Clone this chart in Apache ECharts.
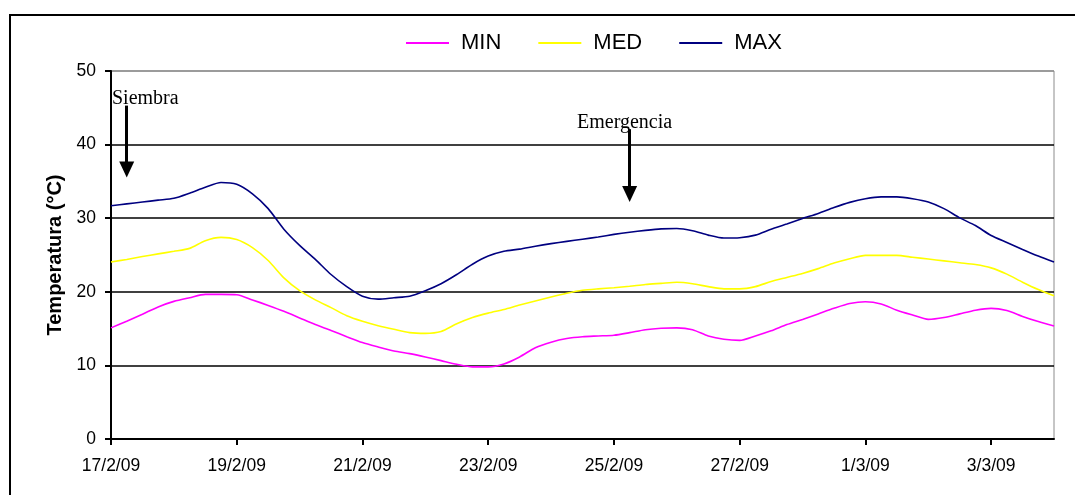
<!DOCTYPE html>
<html>
<head>
<meta charset="utf-8">
<script src="https://cdn.jsdelivr.net/npm/echarts@6/dist/echarts.min.js"></script>
<style>
  html, body { margin: 0; padding: 0; background: #fff; }
  #grafico { width: 1075px; height: 495px; }
</style>
</head>
<body>
<div id="grafico"></div>
<script>
// fechas del periodo (una por dia), 17/2/09 .. 4/3/09
const fechas = ['17/2/09', '18/2/09', '19/2/09', '20/2/09', '21/2/09', '22/2/09', '23/2/09', '24/2/09',
                '25/2/09', '26/2/09', '27/2/09', '28/2/09', '1/3/09', '2/3/09', '3/3/09', '4/3/09'];
// lecturas cada 6 horas
const horas = ['00h', '06h', '12h', '18h'];

// temperaturas (°C), una cada 6 h
const tMin = [15.1, 16.0, 16.95, 17.95, 18.7, 19.2, 19.65, 19.65, 19.6, 18.9, 18.15, 17.35,
              16.45, 15.55, 14.75, 13.9, 13.1, 12.5, 11.95, 11.6, 11.15, 10.65, 10.15, 9.8,
              9.8, 10.2, 11.15, 12.4, 13.15, 13.65, 13.9, 14.0, 14.1, 14.45, 14.85, 15.05,
              15.1, 14.85, 14.0, 13.55, 13.4, 14.0, 14.7, 15.55, 16.25, 17.0, 17.75, 18.4,
              18.65, 18.35, 17.5, 16.85, 16.25, 16.5, 17.0, 17.5, 17.75, 17.45, 16.65, 15.95, 15.35];
const tMed = [24.05, 24.4, 24.8, 25.15, 25.5, 25.9, 26.95, 27.4, 27.1, 26.0, 24.25, 21.9,
              20.15, 18.9, 17.85, 16.75, 16.0, 15.4, 14.9, 14.45, 14.35, 14.6, 15.65, 16.5,
              17.1, 17.6, 18.2, 18.75, 19.3, 19.8, 20.2, 20.4, 20.55, 20.75, 21.0, 21.15,
              21.3, 21.1, 20.7, 20.4, 20.4, 20.7, 21.4, 21.95, 22.5, 23.15, 23.9, 24.5,
              24.95, 24.95, 24.95, 24.7, 24.45, 24.2, 23.95, 23.7, 23.25, 22.4, 21.3, 20.3, 19.45];
const tMax = [31.7, 31.95, 32.2, 32.45, 32.7, 33.4, 34.2, 34.85, 34.6, 33.3, 31.3, 28.5,
              26.3, 24.4, 22.35, 20.7, 19.4, 19.0, 19.2, 19.4, 20.15, 21.1, 22.35, 23.75,
              24.85, 25.5, 25.8, 26.2, 26.55, 26.85, 27.15, 27.45, 27.8, 28.1, 28.35, 28.55,
              28.6, 28.3, 27.7, 27.3, 27.35, 27.7, 28.5, 29.2, 29.95, 30.65, 31.45, 32.15,
              32.65, 32.9, 32.9, 32.65, 32.2, 31.3, 30.05, 29.0, 27.65, 26.7, 25.75, 24.85, 24.05];

// categorias: cada 6 h hasta el ultimo dia a las 00h
const categorias = [];
fechas.forEach((f, i) => {
    horas.forEach((h, j) => {
        if (i < fechas.length - 1 || j === 0) categorias.push(f + ' ' + h);
    });
});

const fuente = "'Liberation Sans', Arial, sans-serif";
const serif = "'Liberation Serif', 'Times New Roman', serif";

const chart = echarts.init(document.getElementById('grafico'), null, { renderer: 'canvas' });

let option = {
    backgroundColor: '#fff',
    animation: false,
    grid: {
        left: 111,
        top: 71,
        right: 21,
        bottom: 56,
        show: true,
        borderColor: '#8c8c8c',
        borderWidth: 1
    },
    legend: {
        left: 405,
        top: 32,
        padding: 0,
        itemGap: 36,
        itemWidth: 43,
        itemHeight: 14,
        itemStyle: { opacity: 0 },
        textStyle: {
            fontFamily: fuente,
            fontSize: 22,
            color: '#000',
            padding: [0, 0, 0, 7]
        },
        data: ['MIN', 'MED', 'MAX']
    },
    xAxis: {
        type: 'category',
        boundaryGap: false,
        data: categorias,
        axisLine: { lineStyle: { color: '#000', width: 2 } },
        axisTick: {
            interval: 7,
            length: 6,
            lineStyle: { color: '#000', width: 2 }
        },
        axisLabel: {
            interval: 7,
            margin: 18,
            fontFamily: fuente,
            fontSize: 17.5,
            color: '#000',
            formatter: function (v) { return v.split(' ')[0]; }
        },
        splitLine: { show: false }
    },
    yAxis: {
        type: 'value',
        min: 0,
        max: 50,
        interval: 10,
        name: 'Temperatura (°C)',
        nameLocation: 'middle',
        nameGap: 45,
        nameTextStyle: {
            fontFamily: fuente,
            fontSize: 20,
            fontWeight: 'bold',
            color: '#000'
        },
        axisLine: { show: true, lineStyle: { color: '#000', width: 2 } },
        axisTick: { show: true, length: 6, lineStyle: { color: '#000', width: 2 } },
        axisLabel: {
            margin: 15,
            fontFamily: fuente,
            fontSize: 17.5,
            color: '#000'
        },
        splitLine: {
            show: true,
            lineStyle: {
                color: ['#000', '#000', '#000', '#000', '#000', '#8c8c8c'],
                width: 1.6
            }
        }
    },
    series: [
        {
            name: 'MIN',
            type: 'line',
            data: tMin,
            symbol: 'none',
            smooth: 0.25,
            lineStyle: { color: '#ff00ff', width: 1.6 },
            itemStyle: { color: '#ff00ff' },
            // flechas de siembra y emergencia
            markLine: {
                silent: true,
                symbol: ['none', 'triangle'],
                symbolSize: [15, 16],
                label: { show: false },
                lineStyle: { color: '#000', width: 3, type: 'solid' },
                data: [
                    [{ coord: [1, 45.3] }, { coord: [1, 36.6] }],
                    [{ coord: [33, 42.1] }, { coord: [33, 33.3] }]
                ]
            }
        },
        {
            name: 'MED',
            type: 'line',
            data: tMed,
            symbol: 'none',
            smooth: 0.25,
            lineStyle: { color: '#ffff00', width: 1.6 },
            itemStyle: { color: '#ffff00' }
        },
        {
            name: 'MAX',
            type: 'line',
            data: tMax,
            symbol: 'none',
            smooth: 0.25,
            lineStyle: { color: '#000080', width: 1.6 },
            itemStyle: { color: '#000080' }
        }
    ],
    graphic: [
        {
            type: 'rect',
            silent: true,
            shape: { x: 10, y: 15, width: 1100, height: 520 },
            style: { fill: 'none', stroke: '#000', lineWidth: 2 }
        },
        {
            type: 'text',
            left: 112,
            top: 89,
            style: { text: 'Siembra', font: '20px ' + serif, fill: '#000' }
        },
        {
            type: 'text',
            left: 577,
            top: 113,
            style: { text: 'Emergencia', font: '20px ' + serif, fill: '#000' }
        }
    ]
};

chart.setOption(option);
</script>
</body>
</html>
